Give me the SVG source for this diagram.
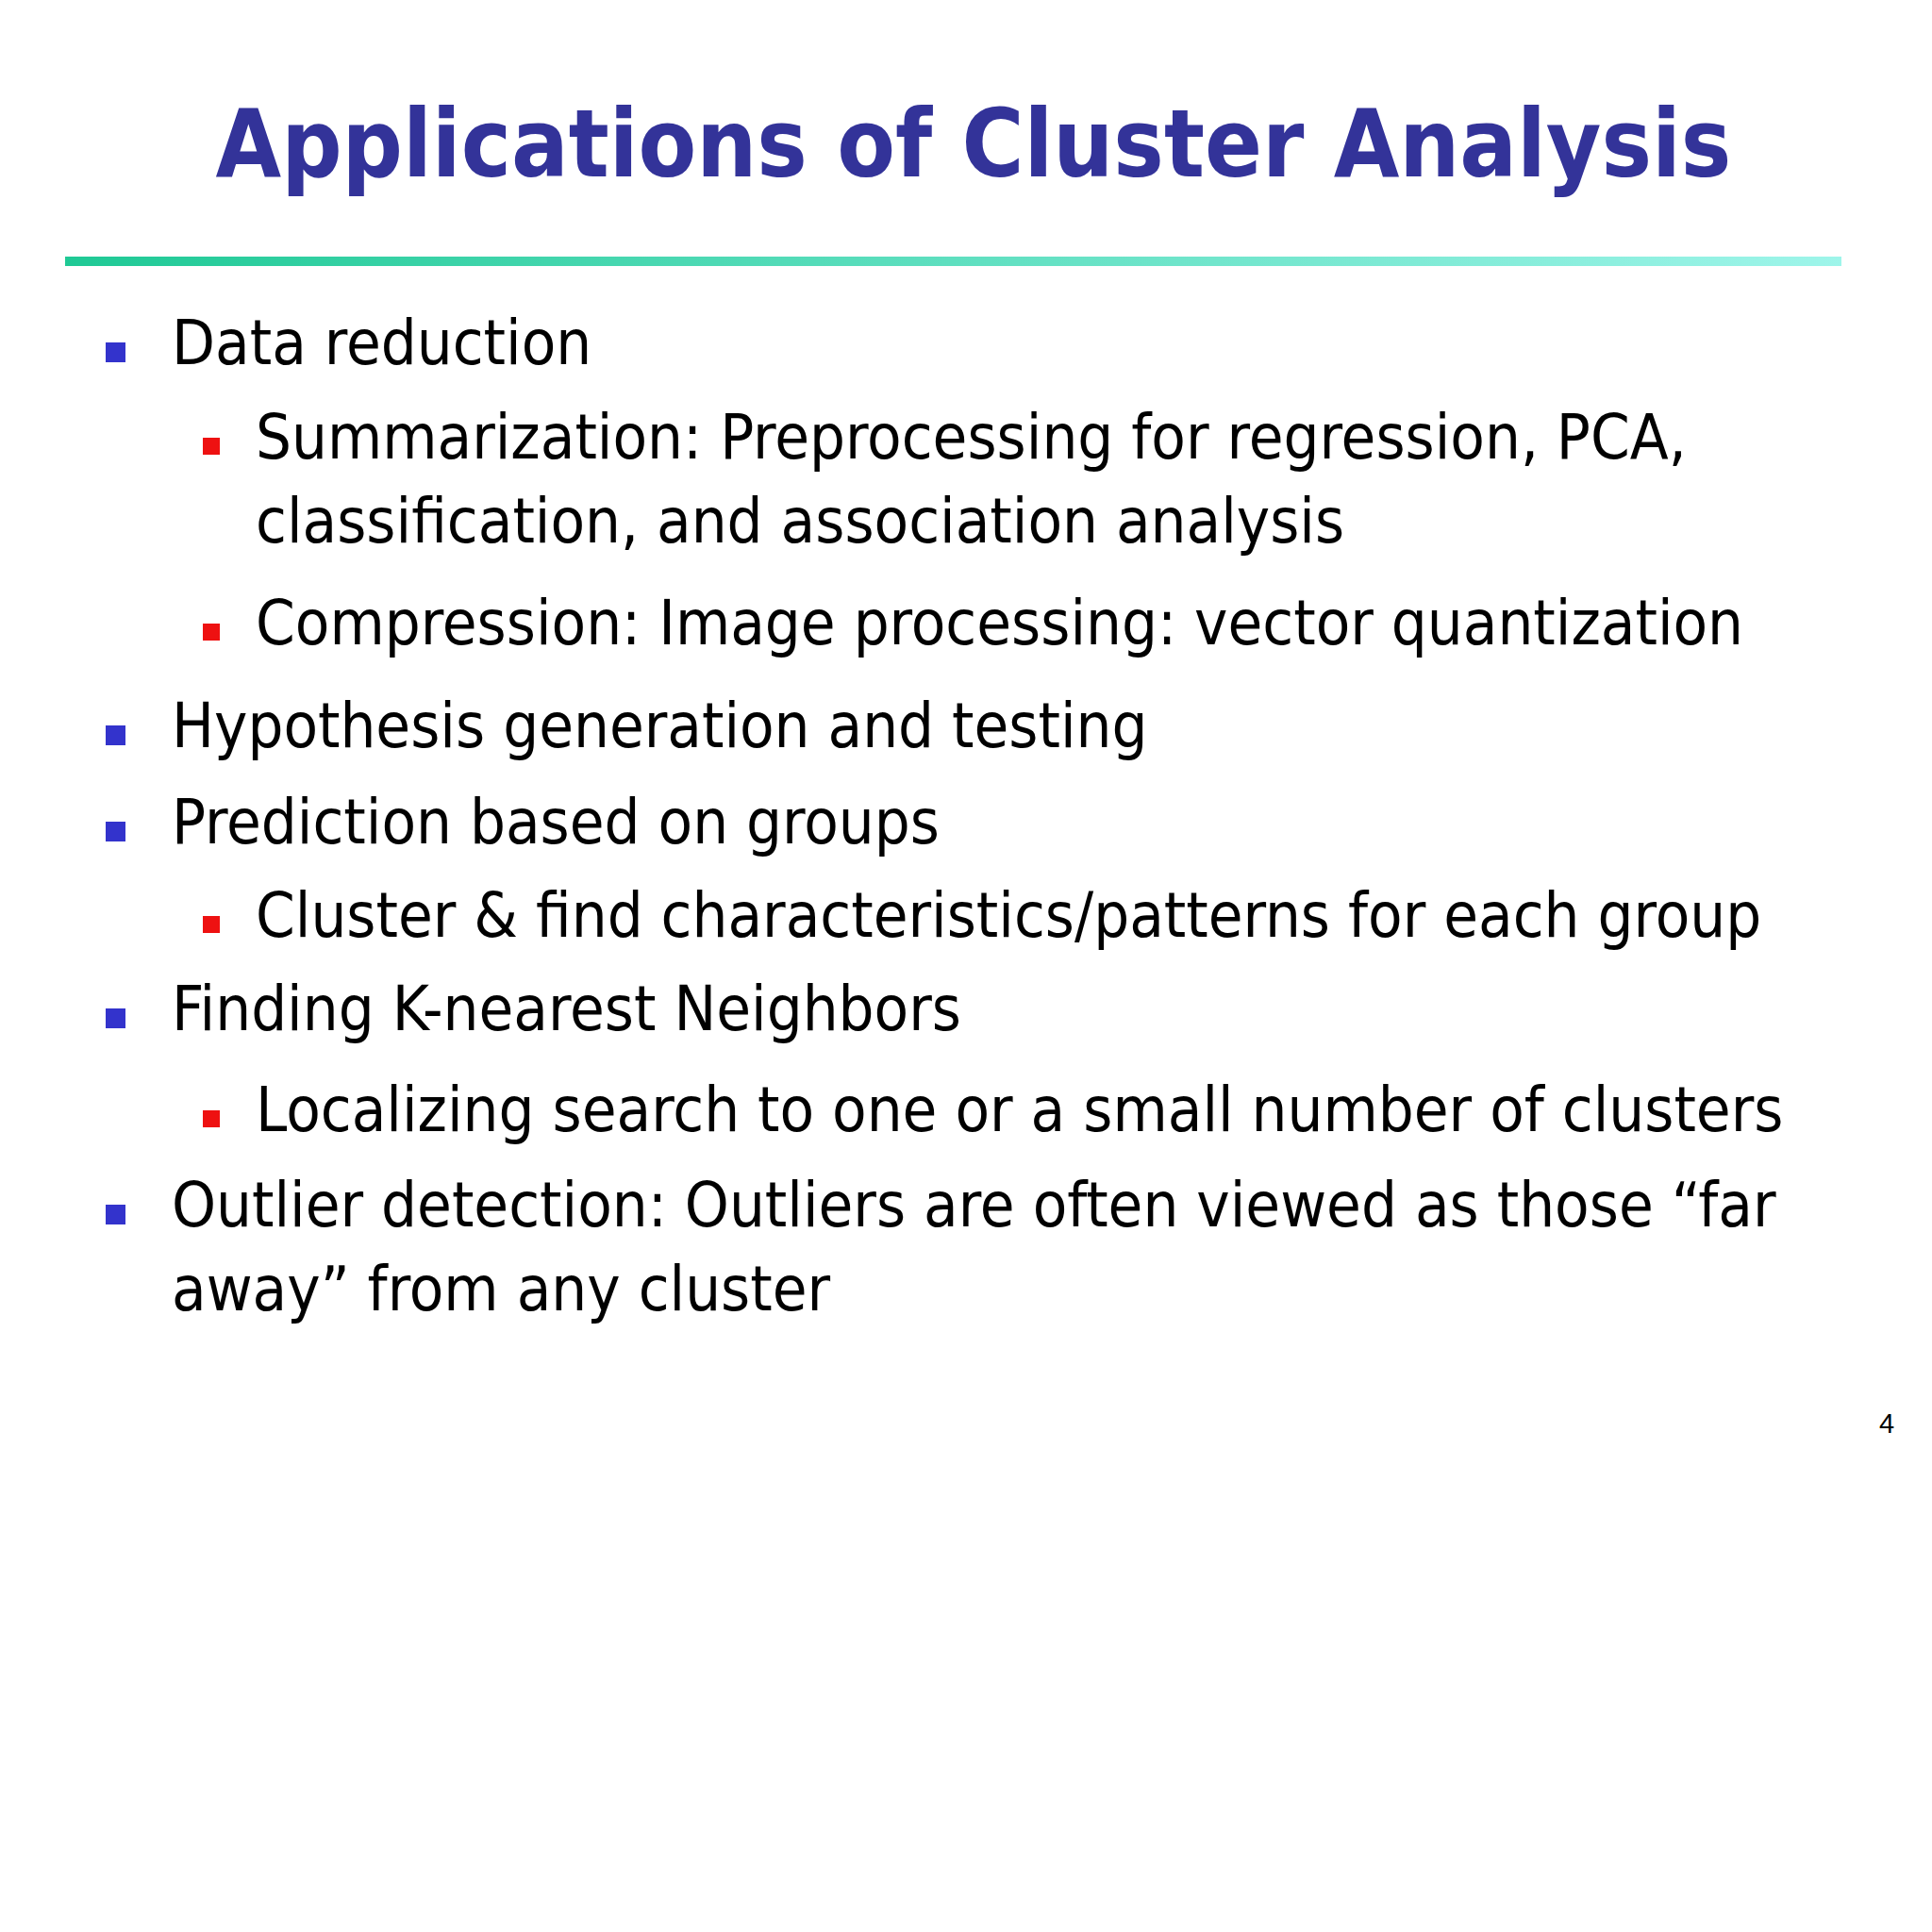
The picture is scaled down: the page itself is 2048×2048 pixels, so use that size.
<svg xmlns="http://www.w3.org/2000/svg" width="2048" height="2048" viewBox="0 0 2048 2048">
<defs>
<linearGradient id="g" x1="0" x2="1" y1="0" y2="0"><stop offset="0" stop-color="#1fc995"/><stop offset="1" stop-color="#9ef5ea"/></linearGradient>
<style>
.t{font-family:"DejaVu Sans Condensed","DejaVu Sans",sans-serif;font-size:66.5px;fill:#000}
.b{fill:#3333cc}.r{fill:#ee1111}
</style>
</defs>
<rect width="2048" height="2048" fill="#fff"/>
<text x="1032" y="187" text-anchor="middle" style="font-family:'DejaVu Sans Condensed','DejaVu Sans',sans-serif;font-weight:bold;font-size:100px;fill:#333399">Applications of Cluster Analysis</text>
<rect x="69" y="272" width="1883" height="10" fill="url(#g)"/>
<g id="bullets">
<rect class="b" x="112" y="363" width="21" height="21"/>
<rect class="r" x="215" y="464" width="18" height="18"/>
<rect class="r" x="215" y="661" width="18" height="18"/>
<rect class="b" x="112" y="769" width="21" height="21"/>
<rect class="b" x="112" y="871" width="21" height="21"/>
<rect class="r" x="215" y="971" width="18" height="18"/>
<rect class="b" x="112" y="1069" width="21" height="21"/>
<rect class="r" x="215" y="1177" width="18" height="18"/>
<rect class="b" x="112" y="1277" width="21" height="21"/>
</g>
<g id="texts">
<text class="t" x="182" y="386">Data reduction</text>
<text class="t" x="271" y="486">Summarization: Preprocessing for regression, PCA,</text>
<text class="t" x="271" y="575">classification, and association analysis</text>
<text class="t" x="271" y="683">Compression: Image processing: vector quantization</text>
<text class="t" x="182" y="792">Hypothesis generation and testing</text>
<text class="t" x="182" y="894">Prediction based on groups</text>
<text class="t" x="271" y="993">Cluster &amp; find characteristics/patterns for each group</text>
<text class="t" x="182" y="1092">Finding K-nearest Neighbors</text>
<text class="t" x="271" y="1199">Localizing search to one or a small number of clusters</text>
<text class="t" x="182" y="1300">Outlier detection: Outliers are often viewed as those “far</text>
<text class="t" x="182" y="1389">away” from any cluster</text>
<text x="2000" y="1519" text-anchor="middle" style="font-family:'Liberation Sans',sans-serif;font-size:29px">4</text>
</g>
</svg>
